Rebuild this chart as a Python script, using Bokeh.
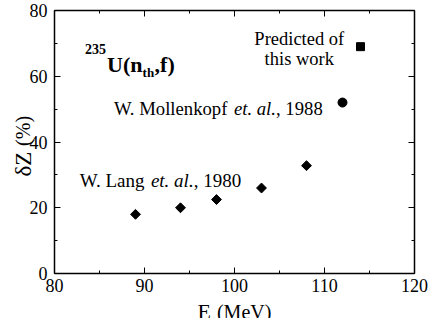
import math
from bokeh.plotting import figure
from bokeh.models import Range1d, LinearAxis, SingleIntervalTicker, Label
from bokeh.core.properties import value
from bokeh.embed import file_html
from bokeh.resources import INLINE

# ---- data ----
lang_E = [89, 94, 98, 103, 108]
lang_dZ = [18.0, 20.0, 22.5, 26.0, 32.8]
moll_E = [112]
moll_dZ = [52.0]
pred_E = [114]
pred_dZ = [69.0]

x_ticks = [80, 90, 100, 110, 120]
y_ticks = [0, 20, 40, 60, 80]
x_tick_labels = ["80", "90", "100", "110", "120"]
y_tick_labels = ["0", "20", "40", "60", "80"]

FONT = "Liberation Serif"

# axes box: x 80..120, y 0..80; the canvas extends a little around it
W, H = 428, 318
L, R, T, B = 54, 14, 10, 45
xs = (W - L - R) / 40.0
ys = (H - T - B) / 80.0
x_range = Range1d(80 - L / xs, 120 + R / xs)
y_range = Range1d(0 - B / ys, 80 + T / ys)

p = figure(width=W, height=H, output_backend="svg", toolbar_location=None,
           x_range=x_range, y_range=y_range,
           x_axis_type=None, y_axis_type=None,
           min_border_left=0, min_border_right=0, min_border_top=0, min_border_bottom=0)
p.background_fill_color = "white"
p.border_fill_color = "white"
p.outline_line_color = None


def make_axis(interval, loc, bounds, ticks):
    ax = LinearAxis(ticker=SingleIntervalTicker(interval=interval, num_minor_ticks=2),
                    fixed_location=loc, bounds=bounds)
    ax.axis_line_color = "black"
    ax.axis_line_width = 1.5
    ax.major_tick_in = 6
    ax.major_tick_out = 0
    ax.minor_tick_in = 3
    ax.minor_tick_out = 0
    ax.major_tick_line_color = "black"
    ax.minor_tick_line_color = "black"
    ax.major_tick_line_width = 1
    ax.minor_tick_line_width = 1
    ax.major_label_text_font_size = "0px"
    ax.major_label_standoff = 0
    ax.major_label_overrides = {t: "" for t in ticks}
    return ax


p.add_layout(make_axis(10, 0, (80, 120), x_ticks), "below")
p.add_layout(make_axis(10, 80, (80, 120), x_ticks), "above")
p.add_layout(make_axis(20, 80, (0, 80), y_ticks), "left")
p.add_layout(make_axis(20, 120, (0, 80), y_ticks), "right")

# tick labels (serif)
p.text(x=x_ticks, y=[0] * len(x_ticks), text=x_tick_labels,
       text_font=value(FONT), text_font_size=value("18px"), text_color="black",
       text_align="center", text_baseline="top", y_offset=5)
p.text(x=[80] * len(y_ticks), y=y_ticks, text=y_tick_labels,
       text_font=value(FONT), text_font_size=value("18px"), text_color="black",
       text_align="right", text_baseline="middle", x_offset=-7)

# ---- markers ----
p.scatter(lang_E, lang_dZ, marker="square", size=7, angle=math.pi / 4,
          fill_color="black", line_color="black")
p.scatter(moll_E, moll_dZ, marker="circle", size=9,
          fill_color="black", line_color="black")
p.scatter(pred_E, pred_dZ, marker="square", size=8,
          fill_color="black", line_color="black")


def lab(text, x, y, dx=0, dy=0, size="19px", style="normal", align="left", angle=0):
    p.add_layout(Label(x=x, y=y, x_offset=dx, y_offset=dy, text=text, text_font=FONT,
                       text_font_size=size, text_font_style=style,
                       text_align=align, text_baseline="alphabetic",
                       text_color="black", angle=angle))


# 235U(n_th,f)
tx, ty = 83.4, 63.6
lab("235", tx, ty, 0, 15, "14px", "bold")
lab("U(n", tx, ty, 22, 0, "22px", "bold")
lab("th", tx, ty, 57.5, -8, "13px", "bold")
lab(",f)", tx, ty, 69.5, 0, "22px", "bold")

# W. Mollenkopf et. al., 1988
mx, my = 86.6, 50.3
lab("W. Mollenkopf", mx, my, 0, size="18.7px")
lab("et. al.", mx, my, 120.0, size="18.7px", style="italic")
lab(", 1988", mx, my, 162.1, size="18.7px")

# W. Lang et. al., 1980
lx, ly = 82.8, 28.4
lab("W. Lang", lx, ly, 0)
lab("et. al.", lx, ly, 71.2, style="italic")
lab(", 1980", lx, ly, 114.0)

# Predicted of this work
lab("Predicted of", 107.2, 71.2, 0, size="18.5px", align="center")
lab("this work", 107.2, 65.2, 0, size="18.5px", align="center")

# axis titles (placed in data units outside the axes box)
lab("E", 95.9, -11.6, size="22px")
lab("(MeV)", 98.05, -11.6, size="20px")
lab("\u03b4Z", 76.5, 29.5, size="23px", angle=math.pi / 2)
lab("(%)", 76.5, 38.8, size="20px", angle=math.pi / 2)

open("out.html", "w").write(file_html(p, INLINE))
